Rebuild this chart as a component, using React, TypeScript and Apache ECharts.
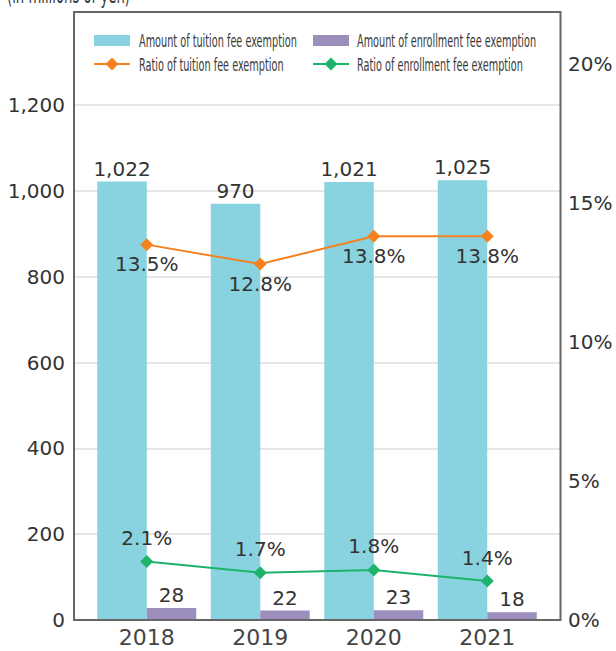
import React, { useEffect, useRef } from "react";
import * as echarts from "echarts";

const years = ["2018", "2019", "2020", "2021"];
const tuitionAmount = [1022, 970, 1021, 1025];
const enrollmentAmount = [28, 22, 23, 18];
const tuitionRatio = [13.5, 12.8, 13.8, 13.8];
const enrollmentRatio = [2.1, 1.7, 1.8, 1.4];

const seriesNames = [
  "Amount of tuition fee exemption",
  "Amount of enrollment fee exemption",
  "Ratio of tuition fee exemption",
  "Ratio of enrollment fee exemption",
];
const unitLabel = "(in millions of yen)";

const COLORS = ["#89d3e0", "#9d8fbd", "#f5821f", "#1db36b"];
const NUM_FONT = "'DejaVu Sans', sans-serif";
const NARROW_FONT = "'Liberation Sans Narrow', 'DejaVu Sans Condensed', sans-serif";
const TEXT = "#333333";
const NARROW_SCALE = 0.6;

const LEFT_MAX = 1400;
const RIGHT_MAX = 21.6;

function fmtComma(v: number) {
  return Math.round(v).toLocaleString("en-US");
}

function legendText(x: number, y: number, text: string) {
  return {
    type: "text",
    x,
    y,
    scaleX: NARROW_SCALE,
    scaleY: 1,
    originX: 0,
    originY: 0,
    style: {
      x: 0,
      y: 0,
      text,
      fontSize: 18,
      fontFamily: NARROW_FONT,
      fill: "#3a3a3a",
      verticalAlign: "middle",
      align: "left",
    },
  };
}

function diamond(cx: number, cy: number, r: number, color: string) {
  return {
    type: "polygon",
    shape: {
      points: [
        [cx, cy - r],
        [cx + r, cy],
        [cx, cy + r],
        [cx - r, cy],
      ],
    },
    style: { fill: color },
  };
}

export default function App() {
  const ref = useRef<HTMLDivElement>(null);

  useEffect(() => {
    if (!ref.current) return;
    const chart = echarts.init(ref.current, null, { renderer: "svg" });

    const row1 = 40.5;
    const row2 = 64;
    const col1 = 94;
    const col2 = 313;

    const option: any = {
      animation: false,
      backgroundColor: "#ffffff",
      grid: [
        { left: 74, right: 56, top: 19.4, bottom: 31 },
        { left: 90, right: 72, top: 19.4, bottom: 31 },
      ],
      xAxis: [
        { gridIndex: 0, type: "category", data: years, show: false },
        {
          gridIndex: 1,
          type: "category",
          data: years,
          axisLine: { show: false },
          axisTick: { show: false },
          axisLabel: {
            fontSize: 22,
            color: "#444",
            fontFamily: NUM_FONT,
            margin: 6,
          },
        },
      ],
      yAxis: [
        {
          gridIndex: 0,
          type: "value",
          position: "left",
          min: 0,
          max: LEFT_MAX,
          interval: 200,
          axisLine: { show: false },
          axisTick: { show: false },
          axisLabel: {
            fontSize: 20,
            color: TEXT,
            fontFamily: NUM_FONT,
            margin: 9,
            showMaxLabel: false,
            formatter: (v: number) => (v >= LEFT_MAX ? "" : fmtComma(v)),
          },
          splitLine: {
            show: true,
            showMinLine: false,
            showMaxLine: false,
            lineStyle: { color: "#dedede", width: 1.5 },
          },
        },
        {
          gridIndex: 0,
          type: "value",
          position: "right",
          min: 0,
          max: RIGHT_MAX,
          interval: 5,
          axisLine: { show: false },
          axisTick: { show: false },
          splitLine: { show: false },
          axisLabel: {
            fontSize: 20,
            color: TEXT,
            fontFamily: NUM_FONT,
            margin: 8,
            showMaxLabel: false,
            formatter: (v: number) => (v > 20.5 ? "" : v + "%"),
          },
        },
        { gridIndex: 1, type: "value", min: 0, max: LEFT_MAX, show: false },
        { gridIndex: 1, type: "value", min: 0, max: RIGHT_MAX, show: false },
      ],
      series: [
        {
          name: seriesNames[0],
          type: "bar",
          xAxisIndex: 1,
          yAxisIndex: 2,
          data: tuitionAmount,
          barWidth: 49.5,
          barGap: "0%",
          itemStyle: { color: COLORS[0] },
          label: {
            show: true,
            position: "top",
            distance: 3,
            fontSize: 20,
            color: TEXT,
            fontFamily: NUM_FONT,
            formatter: (p: any) => fmtComma(p.value),
          },
        },
        {
          name: seriesNames[1],
          type: "bar",
          xAxisIndex: 1,
          yAxisIndex: 2,
          data: enrollmentAmount,
          barWidth: 49.5,
          barGap: "0%",
          itemStyle: { color: COLORS[1] },
          label: {
            show: true,
            position: "top",
            distance: 3,
            fontSize: 20,
            color: TEXT,
            fontFamily: NUM_FONT,
            formatter: (p: any) => fmtComma(p.value),
          },
        },
        {
          name: seriesNames[2],
          type: "line",
          xAxisIndex: 1,
          yAxisIndex: 3,
          data: tuitionRatio,
          symbol: "diamond",
          symbolSize: 13,
          itemStyle: { color: COLORS[2] },
          lineStyle: { color: COLORS[2], width: 2 },
          z: 5,
          label: {
            show: true,
            position: "bottom",
            distance: 3,
            fontSize: 20,
            color: TEXT,
            fontFamily: NUM_FONT,
            formatter: (p: any) => Number(p.value).toFixed(1) + "%",
          },
        },
        {
          name: seriesNames[3],
          type: "line",
          xAxisIndex: 1,
          yAxisIndex: 3,
          data: enrollmentRatio,
          symbol: "diamond",
          symbolSize: 13,
          itemStyle: { color: COLORS[3] },
          lineStyle: { color: COLORS[3], width: 2 },
          z: 5,
          label: {
            show: true,
            position: "top",
            distance: 7,
            fontSize: 20,
            color: TEXT,
            fontFamily: NUM_FONT,
            formatter: (p: any) => Number(p.value).toFixed(1) + "%",
          },
        },
      ],
      graphic: [
        {
          type: "rect",
          shape: { x: 74, y: 12, width: 486.5, height: 608 },
          style: { fill: "none", stroke: "#666666", lineWidth: 2 },
          z: 10,
          silent: true,
        },
        {
          type: "text",
          x: 7,
          y: 7,
          scaleX: NARROW_SCALE,
          scaleY: 1,
          originX: 0,
          originY: 0,
          style: {
            x: 0,
            y: 0,
            text: unitLabel,
            fontSize: 24.5,
            fontFamily: NARROW_FONT,
            fill: "#3a3a3a",
            verticalAlign: "bottom",
            align: "left",
          },
        },
        {
          type: "rect",
          shape: { x: col1, y: row1 - 5.5, width: 36, height: 11 },
          style: { fill: COLORS[0] },
        },
        legendText(col1 + 45, row1, seriesNames[0]),
        {
          type: "rect",
          shape: { x: col2, y: row1 - 5.5, width: 36, height: 11 },
          style: { fill: COLORS[1] },
        },
        legendText(col2 + 44, row1, seriesNames[1]),
        {
          type: "line",
          shape: { x1: col1, y1: row2, x2: col1 + 36, y2: row2 },
          style: { stroke: COLORS[2], lineWidth: 2 },
        },
        diamond(col1 + 18, row2, 6.5, COLORS[2]),
        legendText(col1 + 45, row2, seriesNames[2]),
        {
          type: "line",
          shape: { x1: col2, y1: row2, x2: col2 + 36, y2: row2 },
          style: { stroke: COLORS[3], lineWidth: 2 },
        },
        diamond(col2 + 18, row2, 6.5, COLORS[3]),
        legendText(col2 + 44, row2, seriesNames[3]),
      ],
    };

    chart.setOption(option);
    return () => {
      chart.dispose();
    };
  }, []);

  return (
    <div
      ref={ref}
      style={{ position: "fixed", left: 0, top: 0, width: 616, height: 651 }}
    />
  );
}
